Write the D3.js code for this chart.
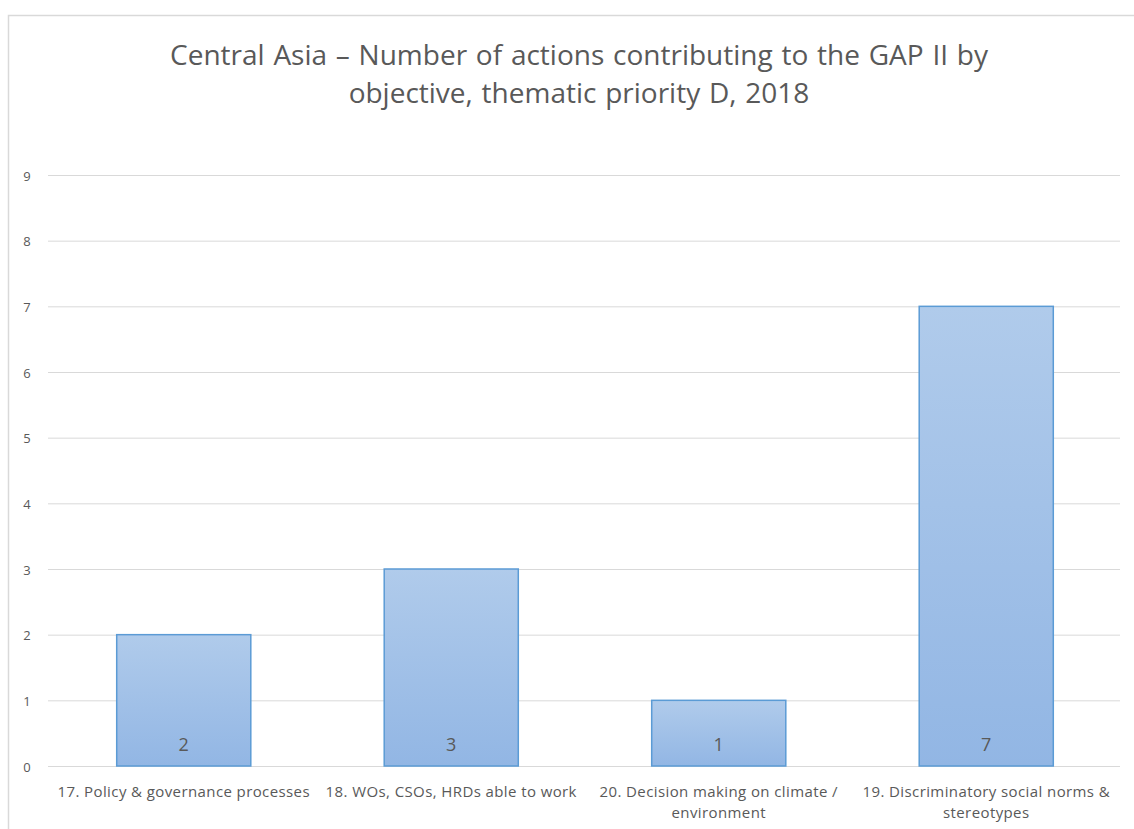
<!DOCTYPE html>
<html>
<head>
<meta charset="utf-8">
<script src="https://cdn.jsdelivr.net/npm/d3@7"></script>
<style>
  html, body { margin: 0; padding: 0; background: #fff; }
  svg { display: block; }
  text { font-family: "Open Sans", "Noto Sans", sans-serif; fill: #595959; }
</style>
</head>
<body>
<svg id="chart" width="1134" height="829"></svg>
<script>
const titleLines = ["Central Asia \u2013 Number of actions contributing to the GAP II by", "objective, thematic priority D, 2018"];
const categories = [
  ["17. Policy & governance processes"],
  ["18. WOs, CSOs, HRDs able to work"],
  ["20. Decision making on climate /", "environment"],
  ["19. Discriminatory social norms &", "stereotypes"]
];
const values = [2, 3, 1, 7];
const yTicks = [0, 1, 2, 3, 4, 5, 6, 7, 8, 9];

const svg = d3.select("#chart");
const m = { left: 50, right: 1120, top: 175, bottom: 766 };

// outer border
svg.append("rect").attr("x", 8.5).attr("y", 15.5).attr("width", 1140).attr("height", 840)
  .attr("fill", "none").attr("stroke", "#d9d9d9").attr("stroke-width", 1.5);

const defs = svg.append("defs");
const grad = defs.append("linearGradient").attr("id", "barGrad").attr("x1", 0).attr("y1", 0).attr("x2", 0).attr("y2", 1);
grad.append("stop").attr("offset", "0%").attr("stop-color", "#b0cbeb");
grad.append("stop").attr("offset", "100%").attr("stop-color", "#92b6e4");

const x = d3.scaleBand().domain(d3.range(categories.length)).range([m.left, m.right])
  .paddingInner(0.495).paddingOuter(0.2475);
const y = d3.scaleLinear().domain([0, 9]).range([m.bottom, m.top]);

// gridlines
const grid = d3.axisLeft(y).tickValues(yTicks).tickSize(-(m.right - m.left + 2)).tickFormat("");
const gg = svg.append("g").attr("transform", `translate(${m.left - 2},0)`).call(grid);
gg.select(".domain").remove();
gg.selectAll("line").attr("stroke", "#d9d9d9").attr("stroke-width", 1);

// y tick labels
const ya = d3.axisLeft(y).tickValues(yTicks).tickSize(0).tickPadding(0).tickFormat(d3.format("d"));
const yg = svg.append("g").attr("transform", `translate(27,0)`).call(ya);
yg.select(".domain").remove();
yg.selectAll("text").attr("font-size", 13).attr("fill", "#595959")
  .style("font-family", "'Open Sans', sans-serif").attr("text-anchor", "middle").attr("dy", "0.4em");

// bars
svg.append("g").selectAll("rect").data(values).join("rect")
  .attr("x", (d, i) => x(i) + 0.5)
  .attr("y", d => y(d))
  .attr("width", x.bandwidth() - 1)
  .attr("height", d => y(0) - y(d))
  .attr("fill", "url(#barGrad)")
  .attr("stroke", "#5b9bd5").attr("stroke-width", 1.5);

// value labels
svg.append("g").selectAll("text").data(values).join("text")
  .attr("x", (d, i) => x(i) + x.bandwidth() / 2)
  .attr("y", y(0) - 15)
  .attr("text-anchor", "middle").attr("font-size", 18).attr("fill", "#6e6e6e")
  .text(d => d);

// x labels
const xl = svg.append("g");
categories.forEach((lines, i) => {
  const cx = x(i) + x.bandwidth() / 2;
  const t = xl.append("text").attr("x", cx).attr("y", 797)
    .attr("text-anchor", "middle").attr("font-size", 15).attr("letter-spacing", 0.4);
  lines.forEach((ln, j) => {
    t.append("tspan").attr("x", cx).attr("dy", j === 0 ? 0 : 21).text(ln);
  });
});

// title
const tt = svg.append("text").attr("x", 579).attr("y", 65).attr("text-anchor", "middle")
  .attr("font-size", 28).attr("word-spacing", 1.5);
titleLines.forEach((ln, j) => {
  tt.append("tspan").attr("x", 579).attr("dy", j === 0 ? 0 : 38).text(ln);
});
</script>
</body>
</html>
